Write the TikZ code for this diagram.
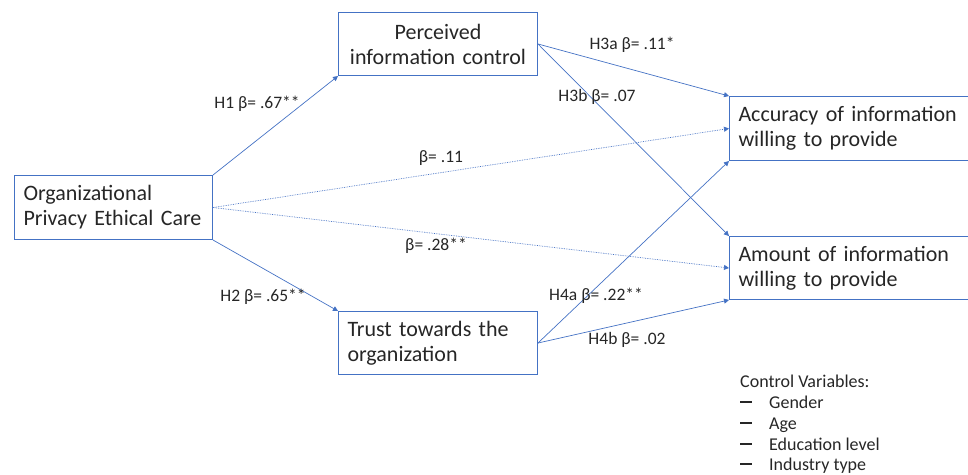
\documentclass[tikz,border=0pt]{standalone}
\usepackage{fontspec}
\setmainfont{Carlito}
\usetikzlibrary{arrows.meta}
\definecolor{boxblue}{HTML}{4472C4}
\definecolor{lineblue}{HTML}{4472C4}
\tikzset{
  varbox/.style={draw=boxblue, line width=1pt, rectangle, minimum height=64pt, inner xsep=9pt,
    font=\fontsize{22}{25}\selectfont, text=black!85},
  path/.style={draw=lineblue, line width=0.7pt, -{Triangle[width=5pt,length=5pt]}},
  dpath/.style={draw=lineblue, line width=0.7pt, densely dotted, -{Triangle[width=5pt,length=5pt]}},
  lbl/.style={font=\fontsize{17.5}{20}\selectfont, text=black!85, inner sep=0pt},
  ctl/.style={font=\fontsize{18}{20}\selectfont, text=black!85, inner sep=0pt, anchor=base west}
}
\begin{document}
\begin{tikzpicture}[x=1pt,y=-1pt]
\useasboundingbox (0,0) rectangle (968,474);
% boxes
\node[varbox, anchor=north west, text width=180pt, minimum width=198pt, align=left] (opec) at (14,175) {Organizational\\Privacy Ethical Care};
\node[varbox, anchor=north west, text width=181pt, minimum width=199pt, minimum height=63pt, align=center] (pic) at (338,12) {Perceived\\information control};
\node[varbox, anchor=north west, text width=181pt, minimum width=199pt, minimum height=63pt, align=left] (trust) at (338,311) {Trust towards the\\organization};
\node[varbox, anchor=north west, text width=260pt, minimum width=278pt, align=left] (acc) at (729,96) {Accuracy of information\\willing to provide};
\node[varbox, anchor=north west, text width=260pt, minimum width=278pt, minimum height=63pt, align=left] (amt) at (729,236) {Amount of information\\willing to provide};
% connectors
\draw[path] (opec.north east) -- (pic.south west);
\draw[path] (opec.south east) -- (trust.north west);
\draw[dpath] (opec.east) -- (acc.west);
\draw[dpath] (opec.east) -- (amt.west);
\draw[path] (pic.east) -- (acc.north west);
\draw[path] (pic.east) -- (amt.north west);
\draw[path] (trust.east) -- (acc.south west);
\draw[path] (trust.east) -- (amt.south west);
% labels
\node[lbl] (l1) at (257,104) {H1 β= .67**};
\node[lbl] (l2) at (263,297) {H2 β= .65**};
\node[lbl] (l3) at (441,158) {β= .11};
\node[lbl] (l4) at (436,246) {β= .28**};
\node[lbl] (l5) at (632,45) {H3a β= .11*};
\node[lbl] (l6) at (597,97) {H3b β= .07};
\node[lbl] (l7) at (596,296) {H4a β= .22**};
\node[lbl] (l8) at (627,340) {H4b β= .02};
% control variables
\node[ctl] (cv) at (740,387) {Control Variables:};
\foreach \y/\t [count=\i] in {402/Gender,423/Age,444/Education level,464/Industry type}{
  \node[ctl] (d\i) at (740,\y+6) {\textcolor{black!85}{\rule[5pt]{12pt}{2.2pt}}};
  \node[ctl] (c\i) at (769,\y+6) {\t};
}
\end{tikzpicture}
\end{document}
